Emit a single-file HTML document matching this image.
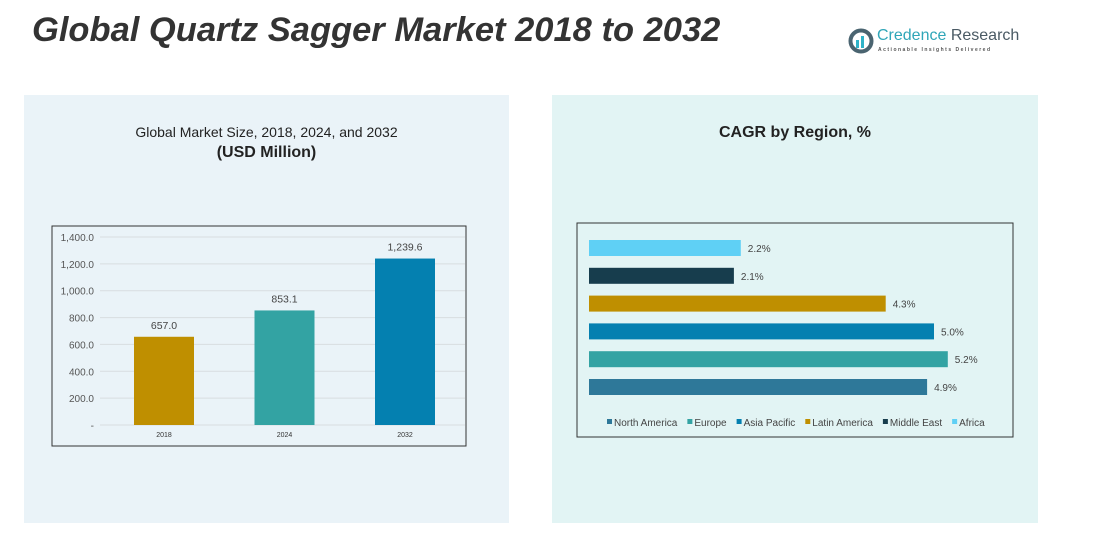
<!DOCTYPE html>
<html><head><meta charset="utf-8"><style>
body{margin:0;width:1095px;height:537px;background:#fff;position:relative;overflow:hidden;font-family:"Liberation Sans",sans-serif}
.abs{position:absolute}
</style></head><body>
<div class="abs" style="left:32px;top:11px;font-size:34.5px;font-weight:bold;font-style:italic;color:#333;white-space:nowrap">Global Quartz Sagger Market 2018 to 2032</div>
<div class="abs" style="left:848px;top:27px;width:170px;height:30px;white-space:nowrap">
<svg width="28" height="28" style="position:absolute;left:0;top:1px"><circle cx="13" cy="13" r="10.5" fill="none" stroke="#4a6470" stroke-width="4"/><rect x="8" y="12" width="3" height="8" fill="#2fb3c8"/><rect x="13" y="8" width="3" height="12" fill="#2fb3c8"/></svg>
<div class="abs" style="left:29px;top:0;font-size:16px;color:#2fa6b8;white-space:nowrap">Credence <span style="color:#4a5a64">Research</span></div>
<div class="abs" style="left:30px;top:20px;font-size:5px;letter-spacing:1.5px;color:#555;font-weight:bold;white-space:nowrap">Actionable Insights Delivered</div>
</div>
<div class="abs" style="left:24px;top:95px;width:485px;height:428px;background:#eaf3f8"></div>
<div class="abs" style="left:552px;top:95px;width:486px;height:428px;background:#e2f4f4"></div>
<div class="abs" style="left:24px;top:122px;width:485px;text-align:center;font-size:14px;color:#222;line-height:20px">Global Market Size, 2018, 2024, and 2032<br><b style="font-size:16px">(USD Million)</b></div>
<div class="abs" style="left:552px;top:124px;width:486px;text-align:center;font-size:16px;font-weight:bold;color:#222">CAGR by Region, %</div>
<svg class="abs" style="left:0;top:0" width="1095" height="537" id="svg">
<rect x="52" y="226" width="414" height="220" fill="none" stroke="#333" stroke-width="1"/>
<rect x="577" y="223" width="436" height="214" fill="none" stroke="#333" stroke-width="1"/>
<g id="g1"></g><g id="g2"></g>
</svg>
<script>
const years=["2018","2024","2032"];
const sizes=[657.0,853.1,1239.6];
const sizeLabels=["657.0","853.1","1,239.6"];
const yTicks=[0,200,400,600,800,1000,1200,1400];
const yTickLabels=["-","200.0","400.0","600.0","800.0","1,000.0","1,200.0","1,400.0"];
const regions=["Africa","Middle East","Latin America","Asia Pacific","Europe","North America"];
const cagr=[2.2,2.1,4.3,5.0,5.2,4.9];
const legendOrder=["North America","Europe","Asia Pacific","Latin America","Middle East","Africa"];
const colors={"2018":"#bf8f00","2024":"#33a3a3","2032":"#0480b0","Africa":"#5fd0f5","Middle East":"#173d4d","Latin America":"#bf8f00","Asia Pacific":"#0480b0","Europe":"#33a3a3","North America":"#2e7899"};
const NS="http://www.w3.org/2000/svg";
function mk(t,a,p){const e=document.createElementNS(NS,t);for(const k in a)e.setAttribute(k,a[k]);p.appendChild(e);return e;}
const g1=document.getElementById('g1'),g2=document.getElementById('g2');
const y=v=>425-v*(188/1400);
const xc=i=>164+i*120.5;
yTicks.forEach((t,i)=>{
 if(t>0){const l=mk('line',{x1:100,x2:465,y1:y(t),y2:y(t),stroke:'#d8dde0'},g1);
 
 }
 const tx=mk('text',{x:94,y:y(t)+4,'text-anchor':'end','font-size':10,fill:'#555'},g1);tx.textContent=yTickLabels[i];
 
 
});
mk('line',{x1:100,x2:465,y1:425,y2:425,stroke:'#d8dde0'},g1);
years.forEach((yr,i)=>{
 const r=mk('rect',{x:xc(i)-30,y:y(sizes[i]),width:60,height:425-y(sizes[i]),fill:colors[yr]},g1);
 
 
 const v=mk('text',{x:xc(i),y:y(sizes[i])-8,'text-anchor':'middle','font-size':10.5,fill:'#444'},g1);v.textContent=sizeLabels[i];
 
 
 const c=mk('text',{x:xc(i),y:437,'text-anchor':'middle','font-size':7,fill:'#333'},g1);c.textContent=yr;
 
 
});
const bx=v=>589+v*69;
regions.forEach((r,i)=>{
 const cy=248+i*27.8;
 const b=mk('rect',{x:589,y:cy-8,width:bx(cagr[i])-589,height:16,fill:colors[r]},g2);
 
 
 const t=mk('text',{x:bx(cagr[i])+7,y:cy+4,'font-size':10,fill:'#444'},g2);t.textContent=cagr[i].toFixed(1)+'%';
 
 
});
let lx=607;
legendOrder.forEach(r=>{
 const s=mk('rect',{x:lx,y:419,width:5,height:5,fill:colors[r]},g2);
 
 
 const t=mk('text',{x:lx+7,y:426,'font-size':10,fill:'#444'},g2);t.textContent=r;
 
 
 lx+=7+t.getComputedTextLength()+10;
});
</script>
</body></html>
